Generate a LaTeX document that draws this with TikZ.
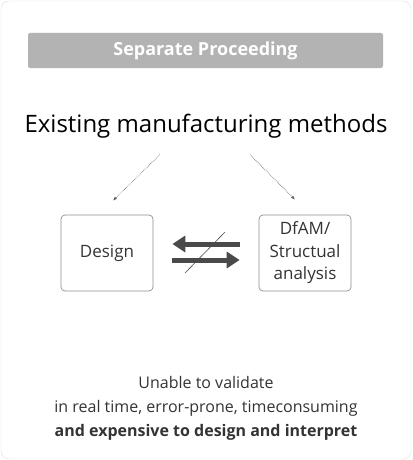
\documentclass[tikz,border=0pt]{standalone}
\usepackage{fontspec}
\setmainfont{Open Sans}
\usetikzlibrary{arrows.meta,calc}
\definecolor{barGray}{HTML}{B3B3B3}
\definecolor{boxGray}{HTML}{8F8F8F}
\definecolor{arrGray}{HTML}{4A4A4A}
\definecolor{txtGray}{HTML}{333333}
\tikzset{
  stage/.style={draw=boxGray, line width=.7pt, rounded corners=4pt, minimum width=92pt, minimum height=76pt, align=center, font=\fontsize{17}{22.5}\selectfont, text=txtGray},
  guide/.style={-{Latex[length=4pt,width=3pt]}, densely dotted, draw=black!65, line width=.6pt},
  flow/.style={-{Triangle[length=13pt,width=16pt]}, line width=5pt, draw=arrGray}
}
\begin{document}
\begin{tikzpicture}[x=1pt, y=-1pt]
\useasboundingbox (0,0) rectangle (412,460);
\draw[draw=black!12, rounded corners=8pt] (1,1) rectangle (411,459);
\fill[barGray, rounded corners=2pt] (28,33) rectangle (383,68);
\node (title) at (205.5,50.5) {\fontsize{18}{20}\selectfont\bfseries\color{white}Separate Proceeding};
\node (head) at (206,126) {\fontsize{24}{28}\selectfont Existing manufacturing methods};
\node[stage] (design) at (107,253) {Design};
\node[stage] (dfam) at (305,253) {DfAM/\\Structual\\analysis};
% dotted guides
\draw[guide] ($(head.south)+(-46,13)$) -- ($(design.north)+(6,-14)$);
\draw[guide] ($(head.south)+(44,13)$) -- ($(dfam.north)+(-10,-15)$);
% no feedback between the two
\draw[flow] ($(dfam.west)+(-19,-9)$) -- ($(design.east)+(19,-9)$);
\draw[flow] ($(design.east)+(19,7)$) -- ($(dfam.west)+(-19,7)$);
\draw[arrGray, line width=.6pt] (185,273) -- (225,232);
\node[align=center, text=txtGray, font=\fontsize{16}{24}\selectfont] (note) at (206,408)
  {Unable to validate\\in real time, error-prone, timeconsuming\\\bfseries and expensive to design and interpret};
\end{tikzpicture}
\end{document}
